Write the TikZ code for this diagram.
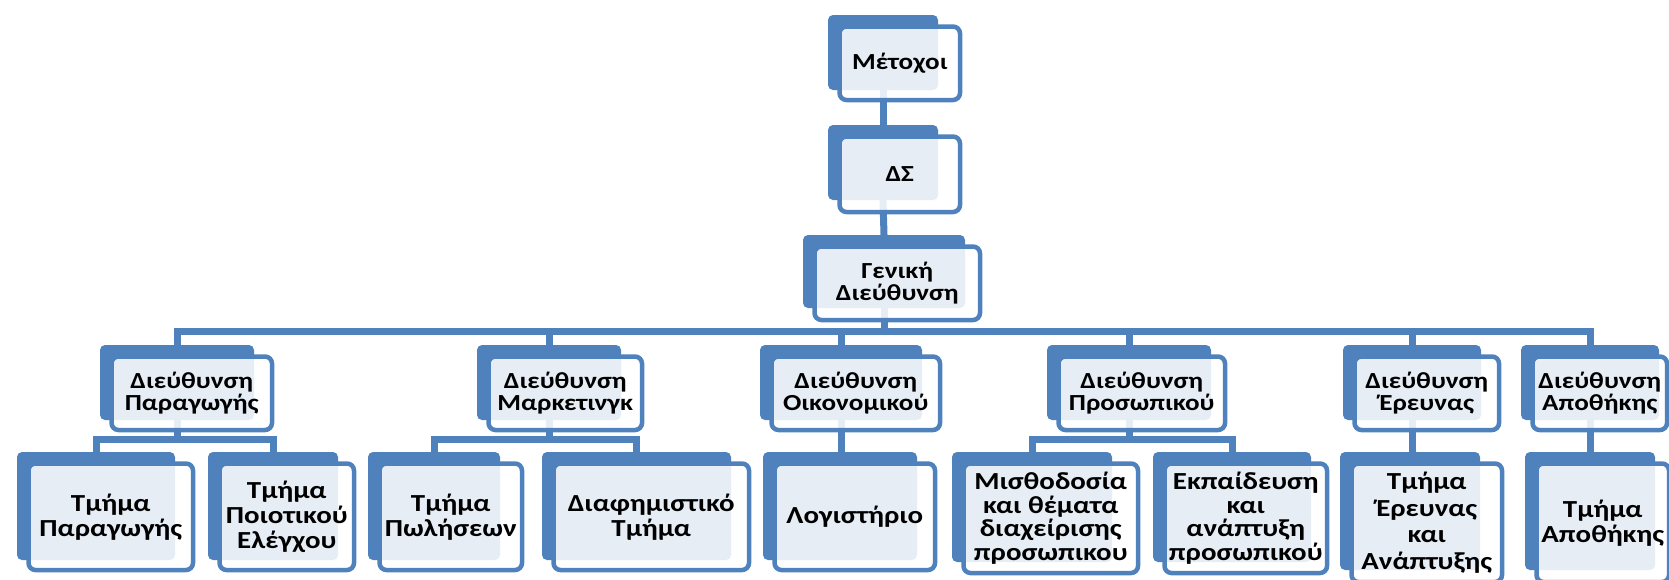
\documentclass[tikz,border=0pt]{standalone}
\usepackage{fontspec}
\setmainfont{Carlito}[FakeStretch=1.18]
\usetikzlibrary{backgrounds}

\definecolor{orgblue}{HTML}{4F81BD}

\tikzset{
  unitback/.style={fill=orgblue, rounded corners=5pt, inner sep=0pt, outer sep=0pt},
  unitfront/.style={draw=orgblue, line width=4.5pt, fill=white, fill opacity=0.86,
    text opacity=1, rounded corners=7pt, inner sep=0pt, align=center,
    font=\bfseries\fontsize{23}{22.5}\selectfont},
  deptfront/.style={unitfront, font=\bfseries\fontsize{24.5}{25}\selectfont},
  tightfront/.style={unitfront, font=\bfseries\fontsize{24.5}{23.5}\selectfont},
  loosefront/.style={unitfront, font=\bfseries\fontsize{24.5}{26.5}\selectfont},
  link/.style={draw=orgblue, line width=7pt},
}

% name, back left/top/right/bottom, front right/bottom, text
\newcommand{\orgunit}[9][]{%
  \node[unitback, anchor=north west, minimum width={#5-#3}, minimum height={#6-#4}] (#2) at (#3,#4) {};
  \node[unitfront, #1, anchor=north west, minimum width={#7-#3-11.5}, minimum height={#8-#4-11.5}]
    (#2-f) at ({#3+9.25},{#4+9.25}) {#9};
}

\begin{document}
\begin{tikzpicture}[x=1pt, y=-1pt]
\useasboundingbox (0,0) rectangle (1669,579);

\coordinate (bus) at (0,331);
\coordinate (sub) at (0,439);

% top
\orgunit{meto}{828}{15}{938}{90}{960}{100}{Μέτοχοι}
\orgunit{ds}{828}{125}{938}{200}{960}{212}{ΔΣ}
\orgunit{gen}{803}{235}{965}{308}{980}{320}{Γενική\\Διεύθυνση}

% directorates
\orgunit{paragogi}{100}{345}{254}{420}{272}{430}{Διεύθυνση\\Παραγωγής}
\orgunit{marketing}{477}{345}{621}{420}{642}{430}{Διεύθυνση\\Μαρκετινγκ}
\orgunit{oikonomiko}{760}{345}{922}{420}{940}{430}{Διεύθυνση\\Οικονομικού}
\orgunit{prosopiko}{1047}{345}{1211}{420}{1225}{430}{Διεύθυνση\\Προσωπικού}
\orgunit{erevna}{1343}{345}{1481}{420}{1499}{430}{Διεύθυνση\\Έρευνας}
\orgunit{apothiki}{1521}{345}{1659}{420}{1667}{430}{Διεύθυνση\\Αποθήκης}

% departments
\orgunit[deptfront]{tparagogi}{17}{452}{175}{560}{193}{570}{Τμήμα\\Παραγωγής}
\orgunit[deptfront]{tpoiotikou}{208}{452}{338}{560}{354}{570}{Τμήμα\\Ποιοτικού\\Ελέγχου}
\orgunit[deptfront]{tpoliseon}{368}{452}{500}{560}{522}{570}{Τμήμα\\Πωλήσεων}
\orgunit[deptfront]{diafimistiko}{542}{452}{731}{560}{749}{570}{Διαφημιστικό\\Τμήμα}
\orgunit[deptfront]{logistirio}{763}{452}{917}{560}{935}{570}{Λογιστήριο}
\orgunit[tightfront]{misthodosia}{952}{452}{1112}{562}{1138}{573}{Μισθοδοσία\\και θέματα\\διαχείρισης\\προσωπικου}
\orgunit[tightfront]{ekpaideusi}{1153}{452}{1311}{562}{1327}{573}{Εκπαίδευση\\και\\ανάπτυξη\\προσωπικού}
\orgunit[loosefront]{terevna}{1340}{452}{1480}{570}{1502}{582}{Τμήμα\\Έρευνας\\και\\Ανάπτυξης}
\orgunit[deptfront]{tapothiki}{1525}{452}{1655}{570}{1669}{582}{Τμήμα\\Αποθήκης}

\begin{pgfonlayer}{background}
\draw[link] (meto.south) -- (ds.north);
\draw[link] (ds.south) -- (gen.north);
\draw[link] (gen.south) -- (gen.south |- bus);
\draw[link] (paragogi.north) -- (paragogi.north |- bus) -- (apothiki.north |- bus) -- (apothiki.north);
\foreach \unit in {marketing,oikonomiko,prosopiko,erevna}
  \draw[link] (\unit.north) -- (\unit.north |- bus);

\draw[link] (paragogi.south) -- (paragogi.south |- sub);
\draw[link] (tparagogi.north) -- (tparagogi.north |- sub) -- (tpoiotikou.north |- sub) -- (tpoiotikou.north);
\draw[link] (marketing.south) -- (marketing.south |- sub);
\draw[link] (tpoliseon.north) -- (tpoliseon.north |- sub) -- (diafimistiko.north |- sub) -- (diafimistiko.north);
\draw[link] (prosopiko.south) -- (prosopiko.south |- sub);
\draw[link] (misthodosia.north) -- (misthodosia.north |- sub) -- (ekpaideusi.north |- sub) -- (ekpaideusi.north);
\draw[link] (oikonomiko.south) -- (oikonomiko.south |- logistirio.north);
\draw[link] (erevna.south) -- (erevna.south |- terevna.north);
\draw[link] (apothiki.south) -- (apothiki.south |- tapothiki.north);
\end{pgfonlayer}
\end{tikzpicture}
\end{document}
